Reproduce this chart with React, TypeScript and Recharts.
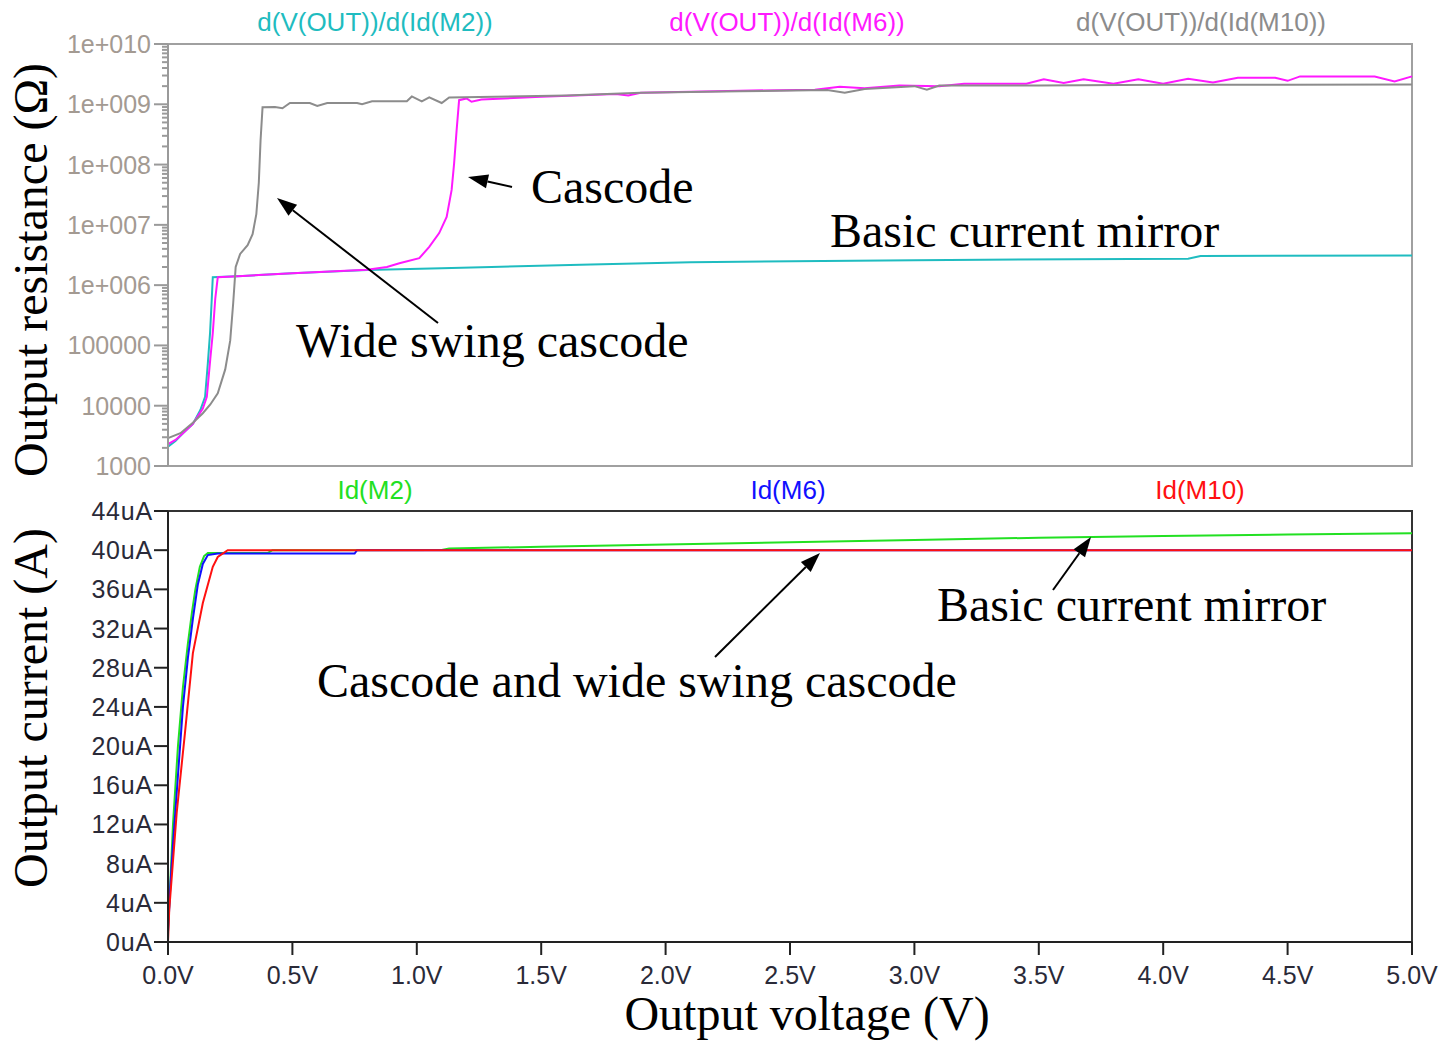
import React from "react";
import { LineChart, Line, XAxis, YAxis, ReferenceArea } from "recharts";

// x axis (output voltage, V)
const voltageTicks = [0, 0.5, 1, 1.5, 2, 2.5, 3, 3.5, 4, 4.5, 5];

// top panel: output resistance, log axis
const decadeTicks = [1e3, 1e4, 1e5, 1e6, 1e7, 1e8, 1e9, 1e10];
const decadeLabels = ["1000", "10000", "100000", "1e+006", "1e+007", "1e+008", "1e+009", "1e+010"];
const minorTicks = decadeTicks.slice(0, -1).flatMap((d) => [2, 3, 4, 5, 6, 7, 8, 9].map((m) => m * d));

// bottom panel: output current, uA
const currentTicks = [0, 4, 8, 12, 16, 20, 24, 28, 32, 36, 40, 44];

const resLegend = ["d(V(OUT))/d(Id(M2))", "d(V(OUT))/d(Id(M6))", "d(V(OUT))/d(Id(M10))"];
const curLegend = ["Id(M2)", "Id(M6)", "Id(M10)"];

// [V, ohm]
const resM2: [number, number][] = [
  [0, 2100], [0.03, 2600], [0.06, 3500], [0.1, 5000], [0.13, 8500], [0.149, 14000],
  [0.16, 50000], [0.169, 160000], [0.176, 600000], [0.18, 1.35e6], [0.3, 1.42e6],
  [0.5, 1.58e6], [0.8, 1.78e6], [1.1, 1.9e6], [1.3, 2.0e6], [1.7, 2.2e6], [2.1, 2.4e6],
  [3.0, 2.6e6], [4.1, 2.75e6], [4.15, 3.05e6], [5.0, 3.1e6],
];

const resM6: [number, number][] = [
  [0, 2300], [0.03, 2700], [0.06, 3500], [0.1, 5000], [0.14, 9000], [0.156, 14000],
  [0.17, 60000], [0.18, 160000], [0.19, 600000], [0.2, 1.35e6], [0.3, 1.42e6],
  [0.5, 1.58e6], [0.8, 1.8e6], [0.88, 2.0e6], [0.93, 2.3e6], [1.01, 2.8e6], [1.05, 4.3e6],
  [1.09, 7.3e6], [1.12, 1.35e7], [1.14, 3.8e7], [1.15, 1.05e8], [1.16, 3.7e8],
  [1.17, 1.17e9], [1.2, 1.25e9], [1.22, 1.1e9], [1.26, 1.2e9], [1.5, 1.33e9],
  [1.8, 1.48e9], [1.85, 1.4e9], [1.9, 1.55e9], [2.3, 1.68e9], [2.6, 1.75e9], [2.7, 1.95e9],
  [2.8, 1.85e9], [2.94, 2.05e9], [3.1, 2.0e9], [3.2, 2.2e9], [3.45, 2.2e9], [3.52, 2.6e9],
  [3.6, 2.25e9], [3.68, 2.6e9], [3.8, 2.2e9], [3.9, 2.6e9], [4.0, 2.2e9], [4.1, 2.65e9],
  [4.2, 2.3e9], [4.3, 2.75e9], [4.45, 2.75e9], [4.5, 2.45e9], [4.55, 2.9e9], [4.85, 2.9e9],
  [4.93, 2.4e9], [5.0, 2.9e9],
];

const resM10: [number, number][] = [
  [0, 2900], [0.05, 3500], [0.1, 5200], [0.14, 7500], [0.17, 10500], [0.2, 16000],
  [0.23, 40000], [0.25, 120000], [0.262, 500000], [0.272, 2.0e6], [0.29, 3.3e6],
  [0.32, 4.6e6], [0.34, 7e6], [0.355, 1.5e7], [0.365, 5e7], [0.372, 2.5e8], [0.38, 8.9e8],
  [0.43, 9.0e8], [0.46, 8.6e8], [0.49, 1.05e9], [0.57, 1.05e9], [0.6, 9.4e8], [0.64, 1.05e9],
  [0.76, 1.05e9], [0.78, 1.0e9], [0.82, 1.12e9], [0.96, 1.12e9], [0.98, 1.35e9],
  [1.02, 1.12e9], [1.05, 1.3e9], [1.1, 1.05e9], [1.13, 1.3e9], [1.6, 1.4e9], [1.9, 1.55e9],
  [2.3, 1.65e9], [2.65, 1.72e9], [2.72, 1.55e9], [2.8, 1.8e9], [3.0, 2.0e9], [3.05, 1.75e9],
  [3.1, 2.05e9], [3.5, 2.05e9], [4.0, 2.1e9], [4.5, 2.1e9], [5.0, 2.12e9],
];

// [V, uA]
const idM2: [number, number][] = [
  [0, 1.5], [0.008, 5.3], [0.02, 12], [0.04, 20], [0.06, 26], [0.08, 30.5], [0.096, 33.6],
  [0.11, 36], [0.128, 38.3], [0.145, 39.4], [0.16, 39.7], [0.4, 39.7], [0.42, 40.0],
  [1.1, 40.02], [1.13, 40.17], [1.5, 40.35], [2.0, 40.58], [2.5, 40.8], [3.0, 41.05],
  [3.5, 41.27], [4.0, 41.45], [4.5, 41.6], [5.0, 41.72],
];

const idM6: [number, number][] = [
  [0, 1], [0.01, 6], [0.02, 10], [0.04, 17], [0.06, 24], [0.08, 29], [0.1, 33], [0.12, 36.5],
  [0.14, 38.6], [0.16, 39.5], [0.2, 39.65], [0.75, 39.65], [0.76, 40.0], [5.0, 40.0],
];

const idM10: [number, number][] = [
  [0, 0], [0.005, 3.3], [0.035, 13.2], [0.068, 21.3], [0.1, 29.5], [0.14, 34.6],
  [0.18, 38.3], [0.2, 39.3], [0.24, 40.0], [5.0, 40.0],
];

const pts = (arr: [number, number][]) => arr.map(([v, y]) => ({ v, y }));

const SANS = "'Liberation Sans', Arial, sans-serif";
const SERIF = "'Liberation Serif', 'Times New Roman', serif";
const CYAN = "#1fbcc0";
const MAGENTA = "#ff19ff";
const GREY = "#8c8c8c";

function ResTick(props: any) {
  const { x, y, payload } = props;
  const i = decadeTicks.indexOf(payload.value);
  const major = i >= 0;
  return (
    <g>
      <line x1={x} x2={x - (major ? 14 : 6)} y1={y} y2={y} stroke="#9a9a9a" strokeWidth={2} />
      {major && (
        <text x={x - 17} y={y + 9} textAnchor="end" fontFamily={SANS} fontSize={25} fill="#a39a92">
          {decadeLabels[i]}
        </text>
      )}
    </g>
  );
}

function CurTick(props: any) {
  const { x, y, payload } = props;
  return (
    <g>
      <line x1={x} x2={x - 14} y1={y} y2={y} stroke="#222" strokeWidth={2} />
      <text x={x - 15} y={y + 9} textAnchor="end" fontFamily={SANS} fontSize={25} letterSpacing={0.8} fill="#2a2a38">
        {`${payload.value}uA`}
      </text>
    </g>
  );
}

function VoltTick(props: any) {
  const { x, y, payload } = props;
  return (
    <g>
      <line x1={x} x2={x} y1={y} y2={y + 13} stroke="#222" strokeWidth={2} />
      <text x={x} y={y + 42} textAnchor="middle" fontFamily={SANS} fontSize={25} fill="#2a2a38">
        {`${payload.value.toFixed(1)}V`}
      </text>
    </g>
  );
}

function Arrow({ x1, y1, x2, y2 }: { x1: number; y1: number; x2: number; y2: number }) {
  const a = Math.atan2(y2 - y1, x2 - x1);
  const len = 20;
  const half = 7;
  const bx = x2 - len * Math.cos(a);
  const by = y2 - len * Math.sin(a);
  const px = -Math.sin(a) * half;
  const py = Math.cos(a) * half;
  return (
    <g>
      <line x1={x1} y1={y1} x2={bx} y2={by} stroke="#000" strokeWidth={2} />
      <polygon points={`${x2},${y2} ${bx + px},${by + py} ${bx - px},${by - py}`} fill="#000" />
    </g>
  );
}

export default function App() {
  const chartMargin = { left: 108, right: 32 };
  return (
    <div style={{ position: "absolute", left: 0, top: 0, width: 1444, height: 1041, background: "#fff" }}>
      <div style={{ position: "absolute", left: 0, top: 0 }}>
        <LineChart width={1444} height={480} margin={{ ...chartMargin, top: 44, bottom: 14 }}>
          <XAxis dataKey="v" type="number" domain={[0, 5]} ticks={voltageTicks} hide />
          <YAxis
            type="number"
            scale="log"
            domain={[1000, 1e10]}
            allowDataOverflow
            ticks={[...decadeTicks, ...minorTicks]}
            interval={0}
            width={60}
            tickSize={0}
            tickMargin={0}
            tickLine={false}
            axisLine={{ stroke: "#9a9a9a", strokeWidth: 2 }}
            tick={<ResTick />}
          />
          <ReferenceArea x1={0} x2={5} y1={1000} y2={1e10} fill="none" stroke="#a0a0a0" strokeWidth={2} />
          <Line data={pts(resM2)} dataKey="y" type="linear" stroke={CYAN} strokeWidth={2} dot={false} isAnimationActive={false} />
          <Line data={pts(resM6)} dataKey="y" type="linear" stroke={MAGENTA} strokeWidth={2} dot={false} isAnimationActive={false} />
          <Line data={pts(resM10)} dataKey="y" type="linear" stroke={GREY} strokeWidth={2} dot={false} isAnimationActive={false} />
        </LineChart>
      </div>
      <div style={{ position: "absolute", left: 0, top: 470 }}>
        <LineChart width={1444} height={571} margin={{ ...chartMargin, top: 41, bottom: 39 }}>
          <XAxis
            dataKey="v"
            type="number"
            domain={[0, 5]}
            ticks={voltageTicks}
            interval={0}
            height={60}
            tickSize={0}
            tickMargin={0}
            tickLine={false}
            axisLine={{ stroke: "#222", strokeWidth: 2 }}
            tick={<VoltTick />}
          />
          <YAxis
            type="number"
            domain={[0, 44]}
            ticks={currentTicks}
            interval={0}
            width={60}
            tickSize={0}
            tickMargin={0}
            tickLine={false}
            axisLine={{ stroke: "#222", strokeWidth: 2 }}
            tick={<CurTick />}
          />
          <ReferenceArea x1={0} x2={5} y1={0} y2={44} fill="none" stroke="#333" strokeWidth={2} />
          <Line data={pts(idM2)} dataKey="y" type="linear" stroke="#22e022" strokeWidth={2} dot={false} isAnimationActive={false} />
          <Line data={pts(idM6)} dataKey="y" type="linear" stroke="#1010ff" strokeWidth={2} dot={false} isAnimationActive={false} />
          <Line data={pts(idM10)} dataKey="y" type="linear" stroke="#ff1010" strokeWidth={2} dot={false} isAnimationActive={false} />
        </LineChart>
      </div>
      <svg width={1444} height={1041} style={{ position: "absolute", left: 0, top: 0, pointerEvents: "none" }}>
        <g fontFamily={SANS} fontSize={26} textAnchor="middle">
          <text x={375} y={31} fill={CYAN}>{resLegend[0]}</text>
          <text x={787} y={31} fill={MAGENTA}>{resLegend[1]}</text>
          <text x={1201} y={31} fill={GREY}>{resLegend[2]}</text>
          <text x={375} y={499} fill="#22e022">{curLegend[0]}</text>
          <text x={788} y={499} fill="#1010ff">{curLegend[1]}</text>
          <text x={1200} y={499} fill="#ff1010">{curLegend[2]}</text>
        </g>
        <g fontFamily={SERIF} fontSize={48} fill="#000">
          <text x={47} y={270} textAnchor="middle" transform="rotate(-90 47 270)">Output resistance (Ω)</text>
          <text x={47} y={708} textAnchor="middle" transform="rotate(-90 47 708)">Output current (A)</text>
          <text x={807} y={1030} textAnchor="middle">Output voltage (V)</text>
          <text x={531} y={203}>Cascode</text>
          <text x={830} y={247}>Basic current mirror</text>
          <text x={296} y={357}>Wide swing cascode</text>
          <text x={937} y={621}>Basic current mirror</text>
          <text x={317} y={697}>Cascode and wide swing cascode</text>
        </g>
        <Arrow x1={512} y1={187} x2={468} y2={177} />
        <Arrow x1={438} y1={323} x2={277} y2={198} />
        <Arrow x1={715} y1={657} x2={820} y2={553} />
        <Arrow x1={1053} y1={590} x2={1091} y2={537} />
      </svg>
    </div>
  );
}
